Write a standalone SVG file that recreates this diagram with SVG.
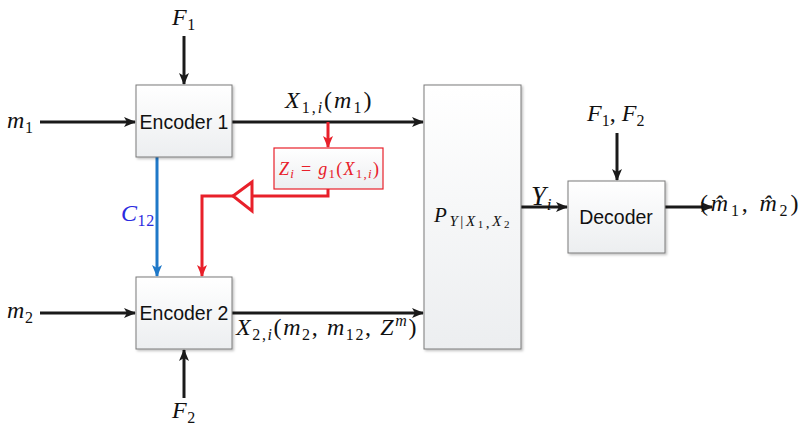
<svg xmlns="http://www.w3.org/2000/svg" width="801" height="425" viewBox="0 0 801 425">
<style>
.box{fill:url(#g);stroke:#7a7a7a;stroke-width:1}
.lbl{font-family:"Liberation Sans",Arial,sans-serif;font-size:19.5px;fill:#111;text-anchor:middle}
.m{font-family:"Liberation Serif","Times New Roman",serif;font-style:italic;font-size:24px;fill:#111;letter-spacing:0.6px}
.s{font-size:16px;font-style:normal}
.si{font-size:16px}
.k{stroke:#1a1a1a;stroke-width:3;fill:none}
.r{stroke:#e8202a;stroke-width:3;fill:none}
.b{stroke:#1f78c8;stroke-width:3;fill:none}
</style>
<defs>
<linearGradient id="g" x1="0" y1="0" x2="0" y2="1">
<stop offset="0" stop-color="#ffffff"/>
<stop offset="1" stop-color="#eceef0"/>
</linearGradient>
<filter id="sh" x="-10%" y="-10%" width="130%" height="130%">
<feDropShadow dx="1.5" dy="1.5" stdDeviation="1" flood-color="#000" flood-opacity="0.25"/>
</filter>
<marker id="ak" markerWidth="12" markerHeight="10" refX="11" refY="5" orient="auto" markerUnits="userSpaceOnUse">
<path d="M0,0 L12,5 L0,10 L3,5 Z" fill="#1a1a1a"/>
</marker>
<marker id="ar" markerWidth="12" markerHeight="10" refX="11" refY="5" orient="auto" markerUnits="userSpaceOnUse">
<path d="M0,0 L12,5 L0,10 L3,5 Z" fill="#e8202a"/>
</marker>
<marker id="ab" markerWidth="12" markerHeight="10" refX="11" refY="5" orient="auto" markerUnits="userSpaceOnUse">
<path d="M0,0 L12,5 L0,10 L3,5 Z" fill="#1f78c8"/>
</marker>
</defs>

<g id="connectors">
<line class="k" x1="40" y1="122" x2="135" y2="122" marker-end="url(#ak)"/>
<line class="k" x1="184" y1="36" x2="184" y2="84" marker-end="url(#ak)"/>
<line class="k" x1="232" y1="122" x2="423" y2="122" marker-end="url(#ak)"/>
<line class="k" x1="40" y1="313" x2="135" y2="313" marker-end="url(#ak)"/>
<line class="k" x1="232" y1="313" x2="423" y2="313" marker-end="url(#ak)"/>
<line class="k" x1="184" y1="398" x2="184" y2="350" marker-end="url(#ak)"/>
<line class="k" x1="521" y1="207" x2="567" y2="207" marker-end="url(#ak)"/>
<line class="k" x1="617" y1="133" x2="617" y2="180" marker-end="url(#ak)"/>
<line class="k" x1="665" y1="207" x2="712" y2="207" marker-end="url(#ak)"/>
<line class="b" x1="157" y1="157" x2="157" y2="276" marker-end="url(#ab)"/>
<line class="r" x1="328" y1="122" x2="328" y2="147" marker-end="url(#ar)"/>
<polyline class="r" points="328,189 328,196 252,196"/>
<polygon points="233,196 252,182 252,211" fill="#ffffff" stroke="#e8202a" stroke-width="3" stroke-linejoin="miter"/>
<polyline class="r" points="233,196 202,196 202,276" marker-end="url(#ar)"/>
</g>

<g id="encoder1">
<rect class="box" x="136" y="85" width="96" height="72" filter="url(#sh)"/>
<text class="lbl" x="184" y="129">Encoder 1</text>
</g>
<g id="encoder2">
<rect class="box" x="136" y="277" width="96" height="72" filter="url(#sh)"/>
<text class="lbl" x="184" y="320">Encoder 2</text>
</g>
<g id="channel">
<rect class="box" x="424" y="85" width="97" height="264" filter="url(#sh)"/>
<text class="m" x="434" y="222" textLength="76" style="font-size:21px">P<tspan class="si" style="font-size:15px" dy="4">Y</tspan><tspan class="s" style="font-size:15px">|</tspan><tspan class="si" style="font-size:15px">X</tspan><tspan class="s" style="font-size:11px" dy="2">1</tspan><tspan class="s" style="font-size:15px">,</tspan><tspan class="si" style="font-size:15px" dy="-2">X</tspan><tspan class="s" style="font-size:11px" dy="2">2</tspan></text>
</g>
<g id="decoder">
<rect class="box" x="568" y="181" width="97" height="72" filter="url(#sh)"/>
<text class="lbl" x="616" y="224">Decoder</text>
</g>
<g id="g1box">
<rect x="274" y="148" width="109" height="41" fill="url(#g)" stroke="#e8202a" stroke-width="1.2"/>
<text class="m" x="279" y="175" textLength="100" style="fill:#e8202a;letter-spacing:0;font-size:18px">Z<tspan class="si" dy="3" style="font-size:13px">i</tspan><tspan font-style="normal" dy="-3"> = </tspan>g<tspan class="s" dy="3" style="font-size:13px">1</tspan><tspan font-style="normal" dy="-3">(</tspan>X<tspan class="s" dy="3" style="font-size:13px">1,</tspan><tspan class="si" style="font-size:13px">i</tspan><tspan font-style="normal" dy="-3">)</tspan></text>
</g>

<g id="labels">
<text class="m" x="172" y="25">F<tspan class="s" dy="5">1</tspan></text>
<text class="m" x="7" y="128">m<tspan class="s" dy="5">1</tspan></text>
<text class="m" x="285" y="108" textLength="87">X<tspan class="s" dy="5">1,</tspan><tspan class="si">i</tspan><tspan font-style="normal" dy="-5">(</tspan>m<tspan class="s" dy="5">1</tspan><tspan font-style="normal" dy="-5">)</tspan></text>
<text class="m" x="121" y="221" style="fill:#2a2ae0">C<tspan class="s" dy="5">12</tspan></text>
<text class="m" x="7" y="318">m<tspan class="s" dy="5">2</tspan></text>
<text class="m" x="236" y="335" textLength="181">X<tspan class="s" dy="5">2,</tspan><tspan class="si">i</tspan><tspan font-style="normal" dy="-5">(</tspan>m<tspan class="s" dy="5">2</tspan><tspan font-style="normal" dy="-5">, </tspan>m<tspan class="s" dy="5">12</tspan><tspan font-style="normal" dy="-5">, </tspan>Z<tspan class="si" dy="-9">m</tspan><tspan font-style="normal" dy="9">)</tspan></text>
<text class="m" x="172" y="418">F<tspan class="s" dy="5">2</tspan></text>
<text class="m" x="531" y="205" style="font-size:27px">Y<tspan class="si" dy="5" style="font-size:17px">i</tspan></text>
<text class="m" x="587" y="121" textLength="58">F<tspan class="s" dy="5">1</tspan><tspan font-style="normal" dy="-5">, </tspan>F<tspan class="s" dy="5">2</tspan></text>
<text class="m" x="700" y="211" textLength="99"><tspan font-style="normal">(</tspan>m̂<tspan class="s" dy="5">1</tspan><tspan font-style="normal" dy="-5">, </tspan>m̂<tspan class="s" dy="5">2</tspan><tspan font-style="normal" dy="-5">)</tspan></text>
</g>
</svg>
